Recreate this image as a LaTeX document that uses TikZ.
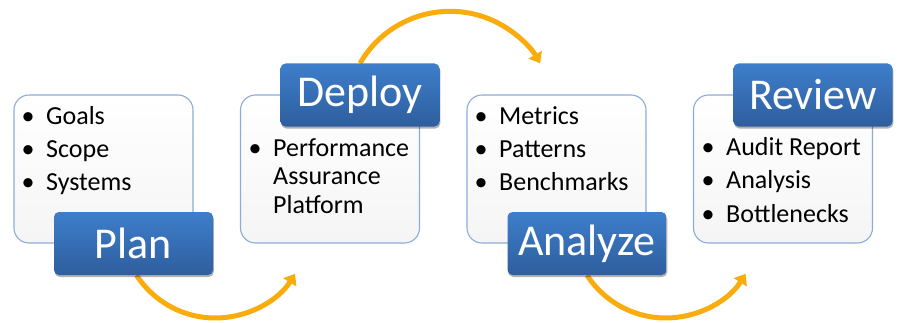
\documentclass[tikz,border=0pt]{standalone}
\usepackage{fontspec}
\setmainfont{Carlito}
\usetikzlibrary{arrows.meta,shadows,backgrounds,calc}
\definecolor{arrowor}{RGB}{250,172,12}
\definecolor{bluetop}{RGB}{62,126,203}
\definecolor{bluebot}{RGB}{46,94,158}
\definecolor{boxline}{RGB}{140,172,216}
\tikzset{
  panel/.style={draw=boxline, line width=1.1pt, rounded corners=15pt,
    top color=white, bottom color=black!4,
    minimum width=179pt, minimum height=148pt, inner sep=0pt},
  stage/.style={rounded corners=5pt, top color=bluetop, bottom color=bluebot,
    minimum width=159pt, minimum height=63pt, inner sep=0pt, text=white,
    font=\fontsize{44}{50}\selectfont,
    drop shadow={shadow xshift=0.8pt, shadow yshift=-2pt, opacity=0.3, fill=black}},
  items/.style={anchor=base west, inner sep=0pt, font=\fontsize{26}{33}\selectfont},
  flow/.style={draw=arrowor, line width=5pt, -{Triangle[length=10pt,width=15pt]}}
}
\newcommand{\bul}{\makebox[24.5pt][l]{\textbullet}}
\begin{document}
\begin{tikzpicture}[x=1pt,y=1pt]
\useasboundingbox (0,0) rectangle (900,322);
% panels
\node[panel] (b1) at (103.5,153) {};
\node[panel] (b2) at (330,153) {};
\node[panel] (b3) at (556.5,153) {};
\node[panel] (b4) at (783,153) {};
% lists
\node[items] (l1) at (21.5,197) {\begin{tabular}[t]{@{}l@{}l@{}}\bul & Goals\\ \bul & Scope\\ \bul & Systems\end{tabular}};
\node[items, font=\fontsize{26}{28.5}\selectfont] (l2) at (248.5,166) {\begin{tabular}[t]{@{}l@{}l@{}}\bul & Performance\\ & Assurance\\ & Platform\end{tabular}};
\node[items] (l3) at (474.5,197) {\begin{tabular}[t]{@{}l@{}l@{}}\bul & Metrics\\ \bul & Patterns\\ \bul & Benchmarks\end{tabular}};
\node[items, font=\fontsize{26}{33.5}\selectfont] (l4) at (701.5,167) {\begin{tabular}[t]{@{}l@{}l@{}}\bul & Audit Report\\ \bul & Analysis\\ \bul & Bottlenecks\end{tabular}};
% stages
\node[stage] (plan) at (133.5,78.5) {Plan};
\node[stage] (deploy) at (360,227) {Deploy};
\node[stage] (analyze) at (587,78.5) {Analyze};
\node[stage] (review) at (813,227) {Review};
% arrows
\begin{scope}[on background layer]
\draw[flow] ($(plan.south)+(3,0)$) arc[start angle=213, end angle=328, radius=94];
\draw[flow] (deploy.north) arc[start angle=150, end angle=30, radius=104];
\draw[flow] (analyze.south) arc[start angle=213, end angle=328, radius=94];
\end{scope}
\end{tikzpicture}
\end{document}
